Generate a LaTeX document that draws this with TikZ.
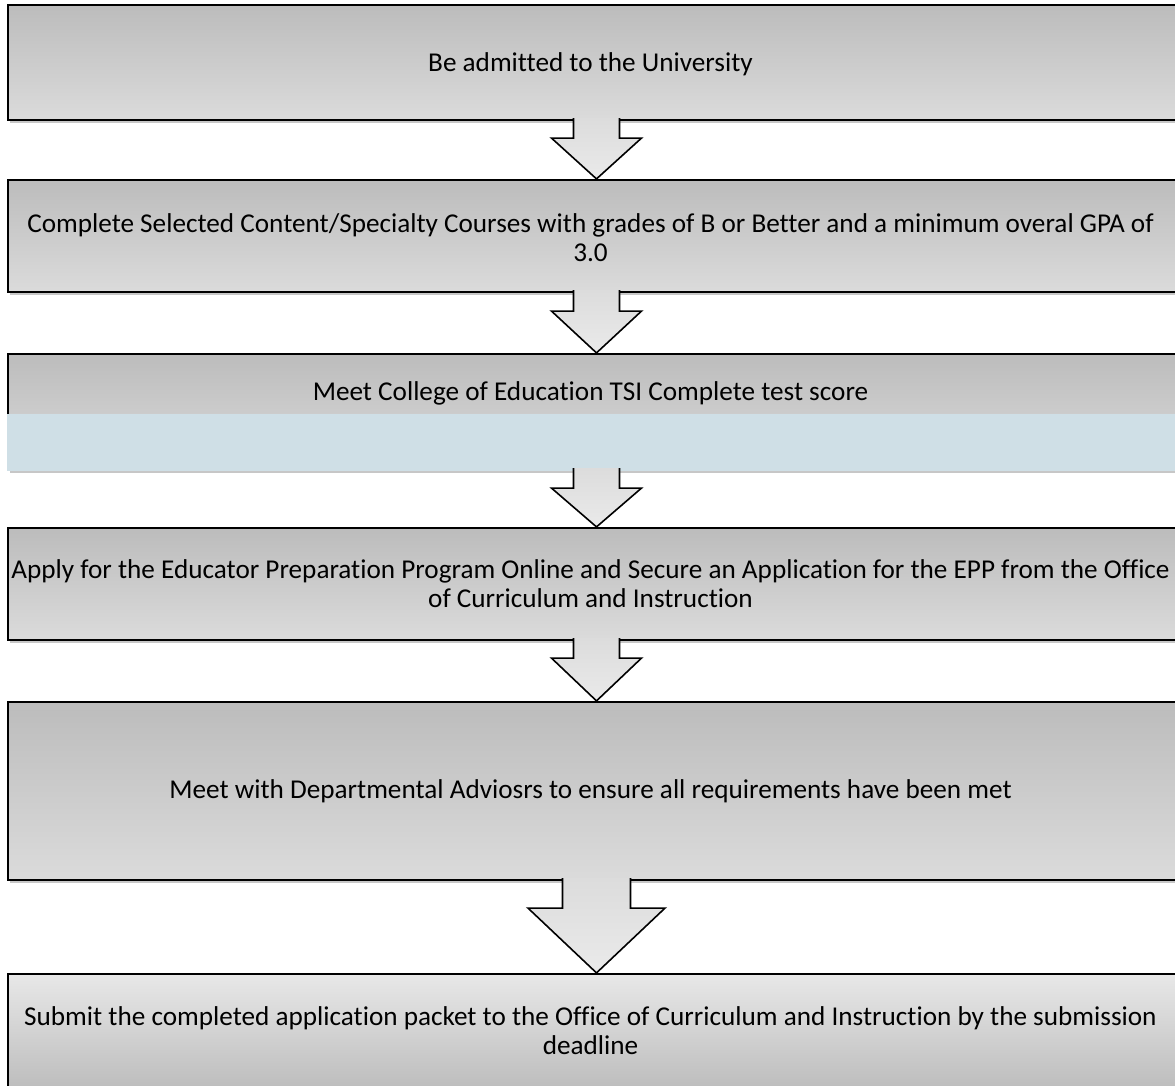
\documentclass[tikz,border=0pt]{standalone}
\usepackage{fontspec}
\setmainfont{Carlito}[Ligatures=NoCommon]
\usepackage{tikz}
\usetikzlibrary{calc,shadows}
\definecolor{boxTop}{HTML}{BCBCBC}
\definecolor{boxBot}{HTML}{DBDBDB}
\definecolor{lastTop}{HTML}{E8E8E8}
\definecolor{lastBot}{HTML}{BDBDBD}
\definecolor{arrowTop}{HTML}{DCDCDC}
\definecolor{arrowBot}{HTML}{EAEAEA}
\definecolor{tsiBlue}{HTML}{CFDFE6}
\tikzset{
  stepFont/.style={font=\fontsize{13.6}{14.6}\selectfont},
  stepBox/.style={draw=black, line width=1.1pt, top color=boxTop, bottom color=boxBot,
    minimum width=588.5pt, minimum height=#1*0.5pt, inner sep=0pt,
    drop shadow={shadow xshift=1pt, shadow yshift=-1.5pt, fill=black, opacity=0.22}},
  lastBox/.style={stepBox=#1, top color=lastTop, bottom color=lastBot},
  stepArrow/.style={draw=black, line width=0.8pt, line join=miter,
    top color=arrowTop, bottom color=arrowBot},
  stepLbl/.style={stepFont, inner sep=0pt, align=center},
}
\newcommand{\StepArrow}[5]{%
  \path[stepArrow] ($(#1.south)+(-#3,-3)$) -- ($(#1.south)+(-#3,#5)$)
    -- ($(#1.south)+(-#4,#5)$) -- (#2.north)
    -- ($(#1.south)+(#4,#5)$) -- ($(#1.south)+(#3,#5)$)
    -- ($(#1.south)+(#3,-3)$);
}

\begin{document}
\begin{tikzpicture}[x=0.5pt, y=-0.5pt]
  \useasboundingbox (0,0) rectangle (1175,1086);

  \node[stepBox=115] (admit) at (596.5,62.5) {};
  \node[stepBox=112] (courses) at (596.5,236) {};
  \node[stepBox=116] (tsi) at (596.5,412) {};
  \fill[tsiBlue] ($(tsi.south west)+(0,-57)$) rectangle (tsi.south east);
  \node[stepBox=112] (apply) at (596.5,584) {};
  \node[stepBox=178] (advisors) at (596.5,791) {};
  \node[lastBox=114] (submit) at (596.5,1031) {};

  \node[stepLbl] (admitText) at ($(admit.center)+(-6,2)$) {Be admitted to the University};
  \node[stepLbl] (coursesText) at ($(courses.center)+(-6,2)$) {Complete Selected Content/Specialty Courses with grades of B or Better and a minimum overal GPA of\\3.0};
  \node[stepLbl] (tsiText) at ($(tsi.center)+(-6,-19)$) {Meet College of Education TSI Complete test score};
  \node[stepLbl] (applyText) at ($(apply.center)+(-6,0)$) {Apply for the Educator Preparation Program Online and Secure an Application for the EPP from the Office\\of Curriculum and Instruction};
  \node[stepLbl] (advisorsText) at ($(advisors.center)+(-6,0)$) {Meet with Departmental Adviosrs to ensure all requirements have been met};
  \node[stepLbl] (submitText) at ($(submit.center)+(-6,0)$) {Submit the completed application packet to the Office of Curriculum and Instruction by the submission\\deadline};

  \StepArrow{admit}{courses}{23}{45}{17}
  \StepArrow{courses}{tsi}{23}{45}{18}
  \StepArrow{tsi}{apply}{23}{45}{17}
  \StepArrow{apply}{advisors}{23}{45}{17}
  \StepArrow{advisors}{submit}{34}{68.5}{27}
\end{tikzpicture}
\end{document}
